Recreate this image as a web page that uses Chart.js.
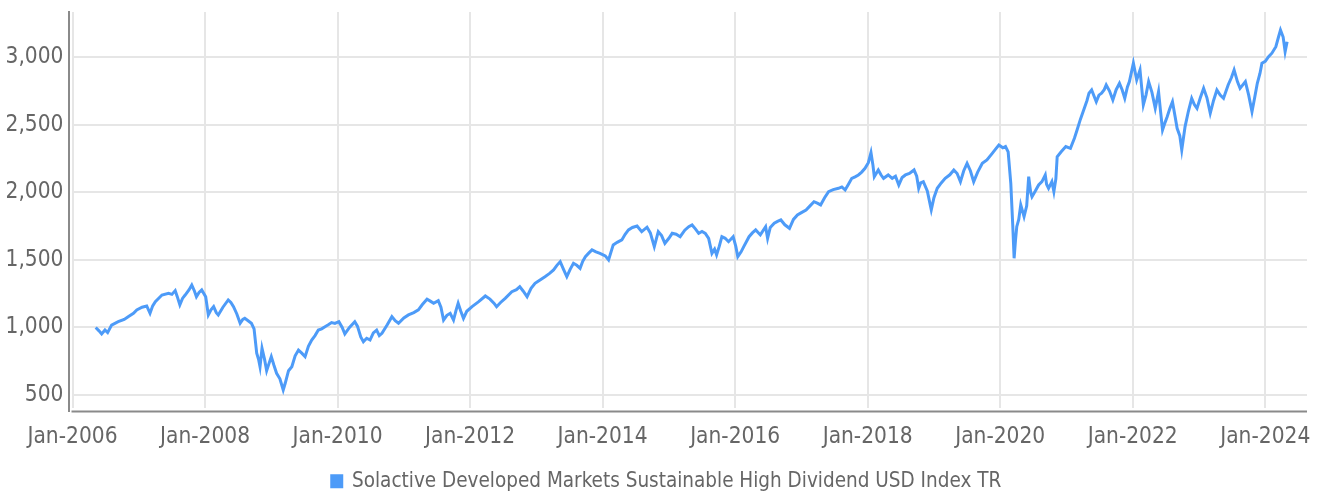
<!DOCTYPE html>
<html lang="en">
<head>
  <meta charset="UTF-8" />
  <title>Solactive Developed Markets Sustainable High Dividend USD Index TR</title>
  <script src="https://cdn.jsdelivr.net/npm/chart.js"></script>
  <style>
    html, body {
      margin: 0;
      padding: 0;
      background: #fff;
    }
    .wrap {
      width: 1317px;
      height: 495px;
    }
  </style>
</head>
<body>
  <div class="wrap">
    <canvas id="indexChart" width="1317" height="495"></canvas>
  </div>

  <script>
    // series name
    const seriesName = "Solactive Developed Markets Sustainable High Dividend USD Index TR";

    // dates as fractional years
    const dates = [
      2006.35, 2006.40, 2006.44, 2006.49, 2006.53, 2006.59, 2006.69, 2006.78, 2006.84, 2006.92, 2006.97,
      2007.05, 2007.12, 2007.17, 2007.21, 2007.25, 2007.35, 2007.45, 2007.50, 2007.55, 2007.58, 2007.62, 2007.66, 2007.70, 2007.76, 2007.80, 2007.84, 2007.87, 2007.91, 2007.95,
      2008.01, 2008.05, 2008.09, 2008.13, 2008.17, 2008.20, 2008.27, 2008.35, 2008.39, 2008.43, 2008.48, 2008.53, 2008.57, 2008.60, 2008.65, 2008.70, 2008.74, 2008.78, 2008.81, 2008.83, 2008.86, 2008.90, 2008.93, 2008.97,
      2009.00, 2009.04, 2009.08, 2009.13, 2009.18, 2009.21, 2009.26, 2009.31, 2009.36, 2009.41, 2009.46, 2009.51, 2009.56, 2009.61, 2009.66, 2009.71, 2009.76, 2009.81, 2009.86, 2009.91, 2009.96,
      2010.02, 2010.07, 2010.11, 2010.18, 2010.26, 2010.30, 2010.35, 2010.39, 2010.44, 2010.49, 2010.54, 2010.59, 2010.63, 2010.67, 2010.75, 2010.82, 2010.87, 2010.92,
      2011.00, 2011.07, 2011.15, 2011.22, 2011.28, 2011.35, 2011.40, 2011.45, 2011.52, 2011.56, 2011.60, 2011.65, 2011.70, 2011.75, 2011.79, 2011.82, 2011.86, 2011.90, 2011.95,
      2012.03, 2012.13, 2012.23, 2012.30, 2012.36, 2012.40, 2012.46, 2012.53, 2012.63, 2012.70, 2012.75, 2012.80, 2012.86, 2012.92, 2012.98,
      2013.05, 2013.13, 2013.20, 2013.26, 2013.31, 2013.36, 2013.41, 2013.46, 2013.51, 2013.56, 2013.61, 2013.66, 2013.70, 2013.74, 2013.79, 2013.84, 2013.90, 2013.96,
      2014.04, 2014.09, 2014.16, 2014.22, 2014.29, 2014.34, 2014.39, 2014.45, 2014.52, 2014.59, 2014.67, 2014.72, 2014.78, 2014.84, 2014.89, 2014.94,
      2015.00, 2015.05, 2015.11, 2015.17, 2015.24, 2015.30, 2015.35, 2015.40, 2015.45, 2015.50, 2015.55, 2015.60, 2015.65, 2015.69, 2015.72, 2015.76, 2015.80, 2015.85, 2015.90, 2015.97,
      2016.01, 2016.04, 2016.09, 2016.13, 2016.21, 2016.26, 2016.31, 2016.38, 2016.46, 2016.49, 2016.53, 2016.59, 2016.64, 2016.69, 2016.75, 2016.82, 2016.88, 2016.94,
      2017.00, 2017.07, 2017.13, 2017.19, 2017.24, 2017.29, 2017.35, 2017.41, 2017.48, 2017.56, 2017.61, 2017.66, 2017.71, 2017.76, 2017.81, 2017.86, 2017.91, 2017.96,
      2018.01, 2018.05, 2018.08, 2018.10, 2018.16, 2018.20, 2018.24, 2018.31, 2018.37, 2018.42, 2018.47, 2018.52, 2018.57, 2018.63, 2018.70, 2018.74, 2018.77, 2018.80, 2018.84, 2018.90, 2018.96,
      2019.00, 2019.05, 2019.11, 2019.17, 2019.24, 2019.30, 2019.35, 2019.40, 2019.45, 2019.50, 2019.55, 2019.60, 2019.66, 2019.73, 2019.80, 2019.88, 2019.93, 2019.98,
      2020.04, 2020.08, 2020.12, 2020.16, 2020.19, 2020.21, 2020.23, 2020.25, 2020.28, 2020.31, 2020.36, 2020.40, 2020.43, 2020.46, 2020.48, 2020.53, 2020.58, 2020.63, 2020.68, 2020.70, 2020.73, 2020.78, 2020.81, 2020.84, 2020.86, 2020.92, 2020.99,
      2021.06, 2021.12, 2021.16, 2021.21, 2021.26, 2021.31, 2021.34, 2021.38, 2021.45, 2021.49, 2021.53, 2021.57, 2021.60, 2021.65, 2021.70, 2021.75, 2021.80, 2021.84, 2021.88, 2021.92, 2021.95,
      2022.01, 2022.06, 2022.11, 2022.16, 2022.20, 2022.24, 2022.29, 2022.34, 2022.39, 2022.42, 2022.45, 2022.49, 2022.52, 2022.56, 2022.60, 2022.64, 2022.67, 2022.71, 2022.74, 2022.79, 2022.84, 2022.89, 2022.93, 2022.97,
      2023.02, 2023.07, 2023.12, 2023.17, 2023.22, 2023.27, 2023.32, 2023.37, 2023.44, 2023.49, 2023.53, 2023.58, 2023.62, 2023.70, 2023.75, 2023.80, 2023.84, 2023.88, 2023.92, 2023.95,
      2024.00, 2024.05, 2024.10, 2024.16, 2024.20, 2024.23, 2024.27, 2024.30, 2024.33
    ];

    // index level at each date
    const values = [
      1000, 975, 952, 981, 962, 1018, 1043, 1060, 1080, 1105, 1130,
      1150, 1159, 1105, 1160, 1191, 1240, 1253, 1245, 1273, 1230, 1167, 1215, 1240, 1280, 1314, 1270, 1228, 1260, 1278,
      1228, 1093, 1130, 1154, 1110, 1093, 1150, 1204, 1185, 1154, 1100, 1031, 1060, 1068, 1050, 1031, 990, 809, 760, 710, 846, 760, 680, 740,
      784, 720, 661, 620, 537, 587, 680, 710, 790, 833, 810, 784, 860, 907, 940, 981, 990, 1006, 1020, 1036, 1030,
      1043, 1000, 952, 1000, 1043, 1010, 930, 895, 920, 907, 960, 981, 940, 957, 1020, 1080, 1050, 1031,
      1070, 1093, 1110, 1130, 1170, 1209, 1195, 1179, 1198, 1150, 1055, 1090, 1105, 1055, 1130, 1179, 1120, 1068, 1120,
      1154, 1191, 1233, 1210, 1180, 1154, 1185, 1216, 1265, 1280, 1302, 1270, 1228, 1290, 1327,
      1350, 1376, 1400, 1426, 1460, 1487, 1430, 1376, 1430, 1475, 1460, 1438, 1490, 1524, 1550, 1574, 1560, 1549,
      1530, 1500, 1611, 1630, 1648, 1690, 1722, 1740, 1751, 1709, 1742, 1700, 1598, 1709, 1680, 1623,
      1660, 1697, 1690, 1672, 1720, 1746, 1759, 1730, 1697, 1710, 1697, 1660, 1549, 1580, 1537, 1600, 1672, 1660, 1635, 1672,
      1600, 1524, 1560, 1598, 1672, 1700, 1722, 1685, 1746, 1660, 1740, 1771, 1785, 1796, 1760, 1734, 1800, 1833,
      1850, 1870, 1900, 1931, 1920, 1907, 1960, 2005, 2020, 2030, 2040, 2018, 2060, 2104, 2115, 2129, 2150, 2178,
      2220, 2294, 2200, 2116, 2166, 2130, 2104, 2129, 2104, 2120, 2055, 2110, 2129, 2140, 2166, 2120, 2030, 2070, 2079, 2010, 1870,
      1960, 2030, 2070, 2104, 2130, 2166, 2140, 2079, 2160, 2215, 2160, 2079, 2150, 2215, 2240, 2289, 2320, 2351,
      2330, 2339, 2300, 2067, 1750, 1512, 1640, 1746, 1800, 1907, 1820, 1900, 2116, 2000, 1968, 2010, 2055, 2080, 2129, 2060, 2030, 2080, 2005, 2100, 2264, 2300, 2339,
      2326, 2400, 2462, 2540, 2610, 2680, 2734, 2758, 2671, 2720, 2734, 2760, 2795, 2750, 2684, 2760, 2807, 2760, 2696, 2780, 2820,
      2956, 2832, 2906, 2647, 2720, 2820, 2740, 2622, 2745, 2600, 2462, 2520, 2560, 2620, 2671, 2560, 2474, 2420, 2314, 2487, 2600, 2696, 2650, 2622,
      2700, 2770, 2700, 2585, 2680, 2758, 2720, 2696, 2795, 2850, 2906, 2820, 2770, 2820, 2720, 2597, 2700, 2807, 2880, 2956,
      2970, 3004, 3030, 3078, 3150, 3202, 3150, 3041, 3115
    ];

    // axis ranges and tick values
    const xRange = [2006, 2024.63];
    const xTicks = [2006, 2008, 2010, 2012, 2014, 2016, 2018, 2020, 2022, 2024];
    const yRange = [404, 3335];
    const yTicks = [500, 1000, 1500, 2000, 2500, 3000];

    const fontFamily = "'Liberation Sans Narrow', 'DejaVu Sans Condensed', 'Roboto', sans-serif";
    const textColor = "#666666";
    const lineColor = "#4d9bf8";

    const axisLines = {
      id: "axisLines",
      afterLayout(chart) {
        // nudge the legend a little to the right, like the original
        chart.legend.left += 13;
        chart.legend.right += 13;
      },
      // the two gray axis lines sit slightly outside the plot area
      afterDraw(chart) {
        const { ctx, chartArea } = chart;
        ctx.save();
        ctx.strokeStyle = "#8a8a8a";
        ctx.lineWidth = 2;
        ctx.beginPath();
        ctx.moveTo(chartArea.left - 3.5, chartArea.top - 1);
        ctx.lineTo(chartArea.left - 3.5, chartArea.bottom + 4);
        ctx.moveTo(chartArea.left - 1, chartArea.bottom + 3.5);
        ctx.lineTo(chartArea.right, chartArea.bottom + 3.5);
        ctx.stroke();
        ctx.restore();
      }
    };

    // no extra room for half labels at the ends of the axes
    const noEdgePadding = s => {
      s.paddingTop = 0;
      s.paddingBottom = 0;
      s.paddingLeft = 0;
      s.paddingRight = 0;
    };

    const points = dates.map((d, i) => ({ x: d, y: values[i] }));

    new Chart(document.getElementById("indexChart"), {
      type: "line",
      data: {
        datasets: [{
          label: seriesName,
          data: points,
          borderColor: lineColor,
          backgroundColor: lineColor,
          borderWidth: 3,
          pointRadius: 0,
          tension: 0,
          fill: false
        }]
      },
      options: {
        responsive: false,
        animation: false,
        layout: { padding: { top: 12, right: 10, left: 0, bottom: -6.5 } },
        plugins: {
          tooltip: { enabled: false },
          legend: {
            position: "bottom",
            labels: {
              boxWidth: 10,
              boxHeight: 11,
              padding: 17,
              color: textColor,
              font: { family: fontFamily, size: 20.5 }
            }
          }
        },
        scales: {
          x: {
            type: "linear",
            min: xRange[0],
            max: xRange[1],
            border: { display: false },
            grid: { color: "#e6e6e6", lineWidth: 2, drawTicks: false },
            afterBuildTicks: s => { s.ticks = xTicks.map(v => ({ value: v })); },
            ticks: {
              maxRotation: 0,
              autoSkip: false,
              padding: 16,
              color: textColor,
              font: { family: fontFamily, size: 22.5 },
              callback: v => "Jan-" + v
            },
            afterFit: s => { s.height = 46; noEdgePadding(s); }
          },
          y: {
            type: "linear",
            min: yRange[0],
            max: yRange[1],
            border: { display: false },
            grid: { color: "#e6e6e6", lineWidth: 2, drawTicks: false },
            afterBuildTicks: s => { s.ticks = yTicks.map(v => ({ value: v })); },
            ticks: {
              padding: 9,
              color: textColor,
              font: { family: fontFamily, size: 22.5 },
              callback: v => v.toLocaleString("en-US")
            },
            afterFit: s => { s.width = 72.5; noEdgePadding(s); }
          }
        }
      },
      plugins: [axisLines]
    });
  </script>
</body>
</html>
